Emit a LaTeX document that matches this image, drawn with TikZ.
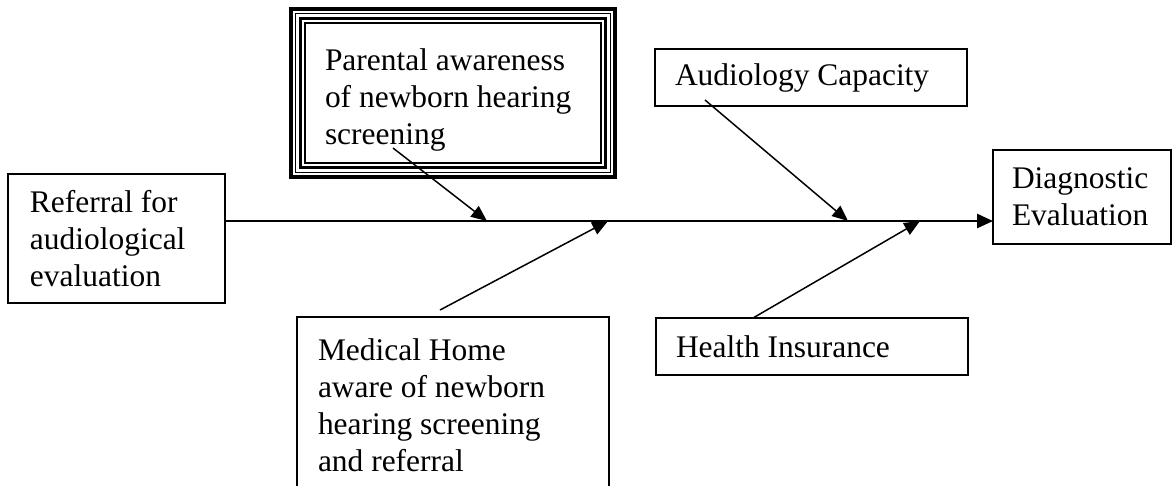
\documentclass[tikz,border=0pt]{standalone}
\usepackage{fontspec}
\setmainfont{Liberation Serif}
\usetikzlibrary{arrows.meta}

\newlength\pxu
\setlength\pxu{0.02cm}

\tikzset{
  box/.style={draw, line width=1.1pt, outer sep=0pt, inner sep=0pt, anchor=north west,
    align=flush left, font=\fontsize{17.9}{21}\selectfont},
  cause/.style={line width=0.85pt, -{Triangle[length=9pt, width=7.6pt]}},
  spine/.style={line width=1.1pt, -{Triangle[length=9pt, width=8pt]}}
}

\begin{document}
\begin{tikzpicture}[x=0.02cm, y=-0.02cm]

\useasboundingbox (0,0) rectangle (1173,485);

% Draw the boxes
\node[box, minimum width=217*\pxu, minimum height=129*\pxu, text width=173*\pxu] (ref) at (8,174)
  {Referral for\\audiological\\evaluation};
\node[box, minimum width=178*\pxu, minimum height=94*\pxu, text width=140*\pxu] (diag) at (993,150)
  {Diagnostic\\Evaluation};
\node[box, minimum width=312*\pxu, minimum height=57*\pxu, text width=272*\pxu] (aud) at (655,49)
  {Audiology Capacity};
\node[box, minimum width=312*\pxu, minimum height=57*\pxu, text width=272*\pxu] (ins) at (656,318)
  {Health Insurance};
\node[box, minimum width=312*\pxu, minimum height=177*\pxu, text width=270*\pxu] (med) at (297,317)
  {Medical Home\\aware of newborn\\hearing screening\\and referral};
\node[box, draw=none, minimum width=296*\pxu, minimum height=154*\pxu, text width=256*\pxu] (par) at (305,23)
  {Parental awareness\\of newborn hearing\\screening};

% Draw the triple frame
\foreach \d/\w in {0/0.6pt, 4.5/1.7pt, 9.5/0.6pt, 14/2.3pt}
  \draw[line width=\w] ([shift={(-\d,-\d)}]par.north west) rectangle ([shift={(\d,\d-14)}]par.south east);

% Points on the main line
\coordinate (t1) at (487,221);
\coordinate (t2) at (608,221);
\coordinate (t3) at (848,221);
\coordinate (t4) at (920,221);

% Start points of the causes
\coordinate (s1) at (393,148);
\coordinate (s2) at (440,310);
\coordinate (s3) at (705,100);
\coordinate (s4) at (753,318);

% Draw the main line
\draw[spine] (ref.east |- t1) -- (diag.west |- t1);

% Draw the causes
\draw[cause] (s1) -- (t1);
\draw[cause] (s2) -- (t2);
\draw[cause] (s3) -- (t3);
\draw[cause] (s4) -- (t4);

\end{tikzpicture}
\end{document}
